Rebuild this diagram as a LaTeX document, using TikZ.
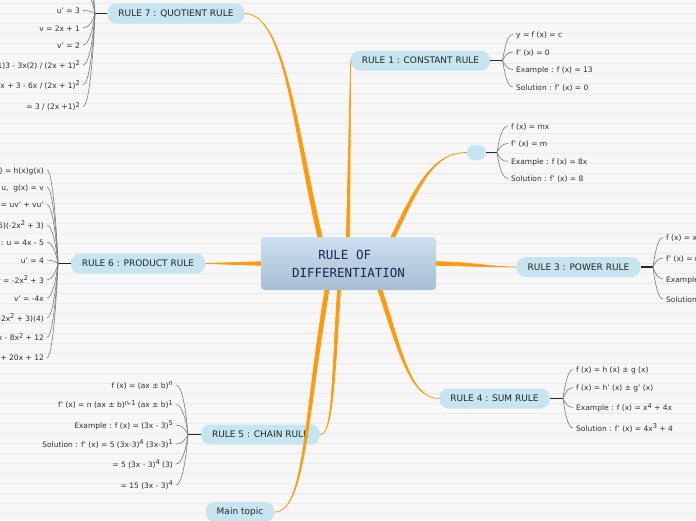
\documentclass[tikz,border=0pt]{standalone}
\usepackage{fontspec}
\setmainfont{DejaVu Sans}
\newfontfamily\centrefont{DejaVu Sans Mono}
\usetikzlibrary{calc}

\definecolor{paper}{HTML}{F7F7F7}
\definecolor{paperrule}{HTML}{EAEAEA}
\definecolor{topicblue}{HTML}{C6E5F0}
\definecolor{centretop}{HTML}{CCE0F1}
\definecolor{centrebottom}{HTML}{A6BED2}
\definecolor{branchorange}{HTML}{FF9A0E}
\definecolor{twiggray}{HTML}{7A7A7A}
\definecolor{leafink}{HTML}{2E2E2E}
\definecolor{centreink}{HTML}{1B2550}

% raised power in the leaf texts
\newcommand\pw[1]{\raisebox{.55ex}{\fontsize{6.6}{7}\selectfont #1}}

\tikzset{
  topic/.style={fill=topicblue, rounded corners=9pt, minimum height=20pt,
    inner xsep=11pt, inner ysep=0pt, text=black!85, font=\fontsize{9}{10}\selectfont},
  centre/.style={rounded corners=4pt, minimum width=175pt, minimum height=53pt,
    top color=centretop, bottom color=centrebottom,
    text=centreink, align=center, font=\centrefont\fontsize{12.5}{18}\selectfont},
  leaf/.style={inner xsep=3pt, inner ysep=1pt, text height=1.55ex, text depth=.4ex,
    text=leafink, font=\fontsize{7.5}{9}\selectfont},
  twig/.style={draw=twiggray, line width=0.6pt},
  stub/.style={draw=black!85, line width=1.6pt},
  branch/.style={fill=branchorange, draw=branchorange, line width=0.7pt, line join=round}
}

\begin{document}
\begin{tikzpicture}[x=1pt, y=-1pt]
  \useasboundingbox (0,0) rectangle (696,520);
  \clip (0,0) rectangle (696,520);

  % lined paper
  \fill[paper] (0,0) rectangle (696,520);
  \foreach \k in {0,...,51} {
    \draw[paperrule, line width=0.5pt] (0,{3+10*\k}) -- (696,{3+10*\k});
  }

  % central topic and main branches
  \node[centre] (centre) at (348.5,263.5) {RULE OF\hspace*{.6em}\\DIFFERENTIATION};

  \node[topic] (r7) at (176,13.5) {RULE 7 : QUOTIENT RULE};
  \node[topic] (r1) at (420.5,60.5) {RULE 1 : CONSTANT RULE};
  \node[topic, minimum width=19pt, minimum height=15pt, inner xsep=0pt, rounded corners=7pt] (r2) at (476.5,152.5) {};
  \node[topic] (r3) at (578.5,267) {RULE 3 : POWER RULE};
  \node[topic] (r4) at (494.5,398.5) {RULE 4 : SUM RULE};
  \node[topic] (r5) at (260.5,434.5) {RULE 5 : CHAIN RULE};
  \node[topic] (main) at (240,512) {Main topic};
  \node[topic] (r6) at (138,263.5) {RULE 6 : PRODUCT RULE};

  % where the branches leave the centre
  \coordinate (c7) at ([xshift=-28.5pt]centre.north);
  \coordinate (c1) at ([xshift=-0.5pt]centre.north);
  \coordinate (c2) at ([xshift=44.5pt]centre.north);
  \coordinate (c3) at (centre.east);
  \coordinate (c4) at ([xshift=31.5pt]centre.south);
  \coordinate (c5) at ([xshift=-9.5pt]centre.south);
  \coordinate (cm) at ([xshift=-21.5pt]centre.south);
  \coordinate (c6) at (centre.west);

  % tapered orange branches
  \filldraw[branch] ([xshift=-2.2pt]c7) .. controls (293,130) and (285,13.5) .. (r7.east)
    .. controls (285,13.5) and (297,130) .. ([xshift=2.2pt]c7) -- cycle;
  \filldraw[branch] ([xshift=-1.6pt]c1) -- (r1.west) -- ([xshift=1.6pt]c1) -- cycle;
  \filldraw[branch] ([xshift=-2pt]c2) .. controls (418,180) and (435,152.5) .. (r2.west)
    .. controls (435,152.5) and (422,180) .. ([xshift=2pt]c2) -- cycle;
  \filldraw[branch] ([yshift=1.8pt]c3) .. controls (470,262) and (490,267) .. (r3.west)
    .. controls (490,267) and (470,266) .. ([yshift=-1.8pt]c3) -- cycle;
  \filldraw[branch] ([xshift=-2pt]c4) .. controls (398,350) and (410,398.5) .. (r4.west)
    .. controls (410,398.5) and (402,350) .. ([xshift=2pt]c4) -- cycle;
  \filldraw[branch] ([xshift=-1.5pt]c5) .. controls (331.5,380) and (333,434.5) .. (r5.east)
    .. controls (333,434.5) and (334.5,380) .. ([xshift=1.5pt]c5) -- cycle;
  \filldraw[branch] ([xshift=-2pt]cm) .. controls (303,420) and (305,512) .. (main.east)
    .. controls (305,512) and (307,420) .. ([xshift=2pt]cm) -- cycle;
  \filldraw[branch] ([yshift=1.8pt]c6) -- (r6.east) -- ([yshift=-1.8pt]c6) -- cycle;

  % RULE 1 leaves
  \coordinate (r1f) at (502.5,60.5);
  \draw[stub] (r1.east) -- (r1f);
  \foreach \y/\txt [count=\i] in {34.5/{y = f (x) = c}, 52/{f' (x) = 0},
      69.5/{Example : f (x) = 13}, 87/{Solution : f' (x) = 0}} {
    \node[leaf, anchor=west] (r1l\i) at (513,\y) {\txt};
    \draw[twig] (r1f) .. controls (505,{(60.5+\y)/2}) and (507,\y) .. (r1l\i.west);
  }

  % RULE 2 leaves
  \coordinate (r2f) at (497,152.5);
  \draw[stub] (r2.east) -- (r2f);
  \foreach \y/\txt [count=\i] in {126/{f (x) = mx}, 143.5/{f' (x) = m},
      161.5/{Example : f (x) = 8x}, 178.5/{Solution : f' (x) = 8}} {
    \node[leaf, anchor=west] (r2l\i) at (508,\y) {\txt};
    \draw[twig] (r2f) .. controls (499,{(152.5+\y)/2}) and (502,\y) .. (r2l\i.west);
  }

  % RULE 3 leaves
  \coordinate (r3f) at (653,267);
  \draw[stub] (r3.east) -- (r3f);
  \foreach \y/\txt [count=\i] in {237.5/{f (x) = x\pw{n}}, 258/{f' (x) = nx\pw{n-1}},
      279/{Example : f (x) = x\pw{3}}, 299/{Solution : f' (x) = 3x\pw{2}}} {
    \node[leaf, anchor=west] (r3l\i) at (663,\y) {\txt};
    \draw[twig] (r3f) .. controls (655,{(267+\y)/2}) and (658,\y) .. (r3l\i.west);
  }

  % RULE 4 leaves
  \coordinate (r4f) at (563,398.5);
  \draw[stub] (r4.east) -- (r4f);
  \foreach \y/\txt [count=\i] in {369.5/{f (x) = h (x) ± g (x)}, 387.5/{f (x) = h' (x) ± g' (x)},
      407.5/{Example : f (x) = x\pw{4} + 4x}, 428/{Solution : f' (x) = 4x\pw{3} + 4}} {
    \node[leaf, anchor=west] (r4l\i) at (573,\y) {\txt};
    \draw[twig] (r4f) .. controls (565,{(398.5+\y)/2}) and (568,\y) .. (r4l\i.west);
  }

  % RULE 5 leaves
  \coordinate (r5f) at (188,434.5);
  \draw[stub] (r5.west) -- (r5f);
  \foreach \y/\txt [count=\i] in {385/{f (x) = (ax ± b)\pw{n}},
      404.5/{f' (x) = n (ax ± b)\pw{n-1} (ax ± b)\pw{1}},
      425/{Example : f (x) = (3x - 3)\pw{5}},
      444/{Solution : f' (x) = 5 (3x-3)\pw{4} (3x-3)\pw{1}},
      464/{= 5 (3x - 3)\pw{4} (3)}, 485/{= 15 (3x - 3)\pw{4}}} {
    \node[leaf, anchor=east] (r5l\i) at (176,\y) {\txt};
    \draw[twig] (r5f) .. controls (186,{(434.5+\y)/2}) and (182,\y) .. (r5l\i.east);
  }

  % RULE 6 leaves
  \coordinate (r6f) at (58,263.5);
  \draw[stub] (r6.west) -- (r6f);
  \foreach \y/\txt [count=\i] in {170/{f (x) = h(x)g(x)}, 187/{Let h(x) = u,\ \ g(x) = v},
      204.5/{f' (x) = uv' + vu'}, 225/{Example : f (x) = (4x - 5)(-2x\pw{2} + 3)},
      242/{Solution : u = 4x - 5}, 260/{u' = 4}, 280/{v = -2x\pw{2} + 3},
      298/{v' = -4x}, 318/{f' (x) = (4x - 5)(-4x) + (-2x\pw{2} + 3)(4)},
      337.5/{= -16x\pw{2} + 20x - 8x\pw{2} + 12},
      357.5/{= -24x\pw{2} + 20x + 12}} {
    \node[leaf, anchor=east] (r6l\i) at (47,\y) {\txt};
    \draw[twig] (r6f) .. controls (56,{(263.5+\y)/2}) and (52,\y) .. (r6l\i.east);
  }

  % RULE 7 leaves (the first ones run off the top)
  \coordinate (r7f) at (95,13.5);
  \draw[stub] (r7.west) -- (r7f);
  \foreach \y [count=\i] in {-44,-26,-8} {
    \coordinate (r7t\i) at (84,\y);
    \draw[twig] (r7f) .. controls (93,{(13.5+\y)/2}) and (89,\y) .. (r7t\i);
  }
  \foreach \y/\txt [count=\i] in {10.5/{u' = 3}, 28/{v = 2x + 1}, 45/{v' = 2},
      65/{f' (x) = (2x + 1)3 - 3x(2) / (2x + 1)\pw{2}},
      85/{= 6x + 3 - 6x / (2x + 1)\pw{2}},
      106.5/{= 3 / (2x +1)\pw{2}}} {
    \node[leaf, anchor=east] (r7l\i) at (83,\y) {\txt};
    \draw[twig] (r7f) .. controls (93,{(13.5+\y)/2}) and (89,\y) .. (r7l\i.east);
  }
\end{tikzpicture}
\end{document}
